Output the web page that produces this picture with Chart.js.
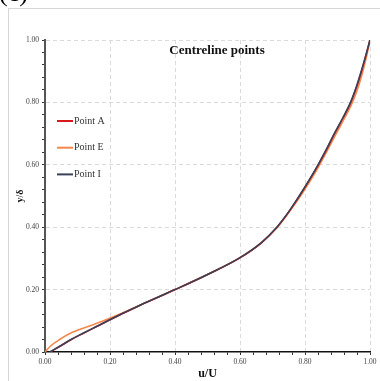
<!DOCTYPE html>
<html>
<head>
<meta charset="utf-8">
<script src="https://cdn.jsdelivr.net/npm/chart.js@4"></script>
<style>
  body { margin: 0; background: #fff; }
  #wrap { width: 380px; height: 381px; position: relative; }
</style>
</head>
<body>
<div id="wrap"><canvas id="chart"></canvas></div>
<script>
// Chart data
let yLevels = [0, 0.02, 0.04, 0.06, 0.08, 0.10, 0.12, 0.15, 0.20, 0.25, 0.30, 0.35, 0.40, 0.45, 0.50, 0.55, 0.60, 0.65, 0.70, 0.75, 0.80, 0.85, 0.90, 0.95, 1.00];
let uPointA = [0.016, 0.049, 0.081, 0.118, 0.156, 0.194, 0.233, 0.293, 0.401, 0.504, 0.597, 0.666, 0.714, 0.751, 0.783, 0.813, 0.841, 0.867, 0.891, 0.917, 0.941, 0.959, 0.974, 0.987, 1.000];
let uPointE = [0.000, 0.018, 0.045, 0.078, 0.128, 0.180, 0.227, 0.292, 0.400, 0.503, 0.596, 0.665, 0.715, 0.752, 0.786, 0.817, 0.845, 0.871, 0.896, 0.922, 0.946, 0.964, 0.978, 0.990, 1.000];
let uPointI = [0.015, 0.048, 0.080, 0.117, 0.155, 0.193, 0.232, 0.292, 0.400, 0.503, 0.596, 0.665, 0.713, 0.750, 0.782, 0.812, 0.840, 0.866, 0.890, 0.916, 0.940, 0.958, 0.973, 0.987, 1.000];
let seriesNames = ['Point A', 'Point E', 'Point I'];
let seriesColors = ['#d7191c', '#f4874b', '#3a4258'];
let tickLabels = ['0.00', '0.20', '0.40', '0.60', '0.80', '1.00'];

let serif = "'Liberation Serif', 'DejaVu Serif', serif";

function toPoints(us) {
  return us.map((u, i) => ({x: u, y: yLevels[i]}));
}

// major tick every 0.2, minor every 0.04
function isMajor(v) {
  return Math.round(v * 100) % 20 === 0;
}
function tickLabel(v) {
  if (!isMajor(v)) return '';
  return tickLabels[Math.round(v * 5)];
}

// frame, "(c)", title and legend
let decorations = {
  id: 'decorations',
  beforeDraw(chart) {
    let ctx = chart.ctx;
    ctx.save();
    ctx.fillStyle = '#fff';
    ctx.fillRect(0, 0, chart.width, chart.height);
    ctx.strokeStyle = '#d6d6d6';
    ctx.lineWidth = 1;
    ctx.strokeRect(8.5, 8.5, 400, 400);
    ctx.fillStyle = '#000';
    ctx.font = '26px ' + serif;
    ctx.textBaseline = 'alphabetic';
    ctx.fillText('(c)', -1, 1);
    ctx.restore();
  },
  afterDraw(chart) {
    let ctx = chart.ctx;
    ctx.save();
    ctx.fillStyle = '#111';
    ctx.font = 'bold 13px ' + serif;
    ctx.textAlign = 'center';
    ctx.textBaseline = 'middle';
    ctx.fillText('Centreline points', 217, 51);
    ctx.font = '10px ' + serif;
    ctx.textAlign = 'left';
    chart.data.datasets.forEach((ds, i) => {
      let y = 121 + i * 26.7;
      ctx.strokeStyle = ds.borderColor;
      ctx.lineWidth = 2;
      ctx.beginPath();
      ctx.moveTo(57, y);
      ctx.lineTo(73, y);
      ctx.stroke();
      ctx.fillStyle = '#333';
      ctx.fillText(ds.label, 74, y);
    });
    ctx.restore();
  }
};

let axisCommon = {
  type: 'linear',
  min: 0,
  max: 1,
  ticks: {
    stepSize: 0.04,
    autoSkip: false,
    maxRotation: 0,
    padding: 3,
    color: '#444',
    font: {family: serif, size: 7.5},
    callback: tickLabel,
  },
  grid: {
    color: ctx => (ctx.tick && isMajor(ctx.tick.value) && ctx.tick.value > 0) ? '#dadada' : 'rgba(0,0,0,0)',
    tickColor: '#333',
    tickLength: 3,
    tickBorderDash: [],
    borderDash: [4, 3],
  },
};

new Chart(document.getElementById('chart'), {
  type: 'line',
  data: {
    datasets: [
      {label: seriesNames[0], data: toPoints(uPointA), borderColor: seriesColors[0], order: 2},
      {label: seriesNames[1], data: toPoints(uPointE), borderColor: seriesColors[1], order: 3},
      {label: seriesNames[2], data: toPoints(uPointI), borderColor: seriesColors[2], order: 1},
    ].map(ds => Object.assign(ds, {
      borderWidth: 1.6,
      pointRadius: 0,
      fill: false,
      cubicInterpolationMode: 'monotone',
    })),
  },
  options: {
    responsive: true,
    maintainAspectRatio: false,
    animation: false,
    layout: {padding: {left: 0, right: 10, top: 40, bottom: 0}},
    plugins: {
      legend: {display: false},
      tooltip: {enabled: false},
    },
    scales: {
      x: Object.assign({}, axisCommon, {
        position: 'bottom',
        border: {dash: [4, 3], color: '#111', width: 1.5},
        title: {
          display: true,
          text: 'u/U',
          color: '#111',
          font: {family: serif, size: 12, weight: 'bold'},
          padding: {top: 0, bottom: 0},
        },
        afterFit: scale => { scale.height = 29; },
      }),
      y: Object.assign({}, axisCommon, {
        position: 'left',
        border: {dash: [4, 3], color: '#555', width: 2},
        title: {
          display: true,
          text: 'y/δ',
          color: '#111',
          font: {family: serif, size: 10, weight: 'bold'},
          padding: {top: 14, bottom: 0},
        },
        afterFit: scale => { scale.width = 45; },
      }),
    },
  },
  plugins: [decorations],
});
</script>
</body>
</html>
